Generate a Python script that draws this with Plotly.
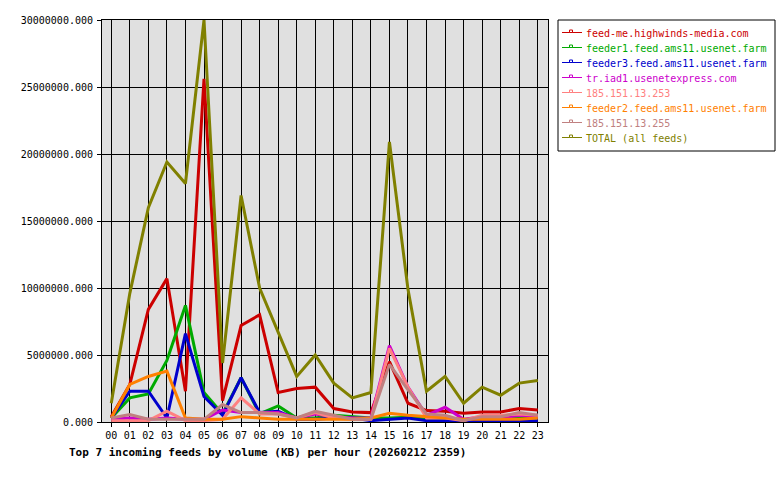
import plotly.graph_objects as go

hours = ["00","01","02","03","04","05","06","07","08","09","10","11",
         "12","13","14","15","16","17","18","19","20","21","22","23"]

names = ["feed-me.highwinds-media.com", "feeder1.feed.ams11.usenet.farm",
         "feeder3.feed.ams11.usenet.farm", "tr.iad1.usenetexpress.com",
         "185.151.13.253", "feeder2.feed.ams11.usenet.farm",
         "185.151.13.255", "TOTAL (all feeds)"]
colors = ["#cc0000", "#00aa00", "#0000cc", "#cc00cc",
          "#ff8080", "#ff8000", "#c08080", "#808000"]

highwinds = [0.4e6, 2.8e6, 8.4e6, 10.7e6, 2.3e6, 25.6e6, 1.6e6, 7.2e6, 8.0e6, 2.2e6, 2.5e6, 2.6e6,
             1.0e6, 0.75e6, 0.7e6, 4.5e6, 1.4e6, 0.85e6, 0.8e6, 0.65e6, 0.75e6, 0.75e6, 1.0e6, 0.9e6]
feeder1 = [0.3e6, 1.8e6, 2.1e6, 4.6e6, 8.7e6, 2.2e6, 0.6e6, 3.3e6, 0.6e6, 1.2e6, 0.3e6, 0.3e6,
           0.5e6, 0.4e6, 0.3e6, 0.3e6, 0.35e6, 0.2e6, 0.1e6, 0.1e6, 0.3e6, 0.3e6, 0.4e6, 0.4e6]
feeder3 = [0.3e6, 2.3e6, 2.3e6, 0.3e6, 6.6e6, 1.9e6, 0.5e6, 3.3e6, 0.7e6, 0.8e6, 0.2e6, 0.2e6,
           0.3e6, 0.3e6, 0.1e6, 0.2e6, 0.3e6, 0.1e6, 0.1e6, 0.1e6, 0.1e6, 0.1e6, 0.1e6, 0.1e6]
usenetexpress = [0.2e6, 0.3e6, 0.2e6, 0.3e6, 0.2e6, 0.2e6, 0.9e6, 0.7e6, 0.7e6, 0.7e6, 0.3e6, 0.6e6,
                 0.4e6, 0.3e6, 0.3e6, 5.7e6, 2.6e6, 0.5e6, 1.1e6, 0.2e6, 0.4e6, 0.3e6, 0.5e6, 0.4e6]
ip253 = [0.1e6, 0.1e6, 0.1e6, 0.8e6, 0.1e6, 0.1e6, 0.2e6, 1.8e6, 0.6e6, 0.6e6, 0.3e6, 0.7e6,
         0.3e6, 0.2e6, 0.2e6, 5.5e6, 2.6e6, 0.3e6, 0.3e6, 0.1e6, 0.5e6, 0.5e6, 0.6e6, 0.5e6]
feeder2 = [0.3e6, 2.8e6, 3.4e6, 3.8e6, 0.3e6, 0.2e6, 0.2e6, 0.4e6, 0.3e6, 0.2e6, 0.2e6, 0.2e6,
           0.2e6, 0.2e6, 0.3e6, 0.65e6, 0.5e6, 0.4e6, 0.3e6, 0.2e6, 0.2e6, 0.2e6, 0.2e6, 0.3e6]
ip255 = [0.3e6, 0.55e6, 0.2e6, 0.2e6, 0.2e6, 0.2e6, 1.3e6, 0.7e6, 0.7e6, 0.6e6, 0.3e6, 0.8e6,
         0.5e6, 0.2e6, 0.2e6, 4.3e6, 2.4e6, 0.6e6, 0.5e6, 0.1e6, 0.4e6, 0.4e6, 0.7e6, 0.5e6]
total = [1.4e6, 9.6e6, 16.0e6, 19.4e6, 17.8e6, 30.0e6, 4.4e6, 16.9e6, 10.0e6, 6.7e6, 3.4e6, 5.0e6,
         2.9e6, 1.8e6, 2.2e6, 20.9e6, 9.9e6, 2.3e6, 3.4e6, 1.4e6, 2.6e6, 2.0e6, 2.9e6, 3.1e6]

series = [highwinds, feeder1, feeder3, usenetexpress, ip253, feeder2, ip255, total]
title_text = "Top 7 incoming feeds by volume (KB) per hour (20260212 2359)"

W, H = 780, 480
L, R, T, B = 102, 548, 20, 422
MONO = "DejaVu Sans Mono"

fig = go.Figure()
xs = list(range(len(hours)))
for name, col, vals in zip(names, colors, series):
    fig.add_trace(go.Scatter(x=xs, y=vals, mode="lines", name=name,
                             line=dict(color=col, width=3), showlegend=False,
                             hoverinfo="skip"))

def px(xp):
    return (xp - L) / (R - L)

def py(yp):
    return (B - yp) / (B - T)

shapes = []
annotations = []
# legend box
shapes.append(dict(type="rect", xref="paper", yref="paper",
                   x0=px(558), x1=px(775), y0=py(20), y1=py(151),
                   line=dict(color="black", width=1), fillcolor="white", layer="above"))
for i, (name, col) in enumerate(zip(names, colors)):
    yc = 32.5 + 15 * i
    shapes.append(dict(type="line", xref="paper", yref="paper",
                       x0=px(562), x1=px(582), y0=py(yc), y1=py(yc),
                       line=dict(color=col, width=1), layer="above"))
    shapes.append(dict(type="rect", xref="paper", yref="paper",
                       x0=px(569.5), x1=px(572.5), y0=py(yc), y1=py(yc - 2.5),
                       line=dict(color=col, width=1), fillcolor="white", layer="above"))
    annotations.append(dict(xref="paper", yref="paper", x=px(585), y=py(yc + 0.5),
                            xanchor="left", yanchor="middle", showarrow=False,
                            text=name, font=dict(family=MONO, size=10, color=col),
                            borderpad=0))

annotations.append(dict(xref="paper", yref="paper", x=px(68), y=py(452),
                        xanchor="left", yanchor="middle", showarrow=False,
                        text="<b>" + title_text + "</b>",
                        font=dict(family=MONO, size=11, color="black"), borderpad=0))

fig.update_layout(
    width=W, height=H,
    margin=dict(l=L, r=W - R, t=T, b=H - B, pad=0),
    paper_bgcolor="white", plot_bgcolor="#e0e0e0",
    font=dict(family=MONO, size=10, color="black"),
    shapes=shapes, annotations=annotations,
    showlegend=False,
)
fig.update_xaxes(range=[-0.5, 23.55], tickmode="array", tickvals=xs, ticktext=hours,
                 showgrid=True, gridcolor="black", gridwidth=1,
                 showline=True, linecolor="black", linewidth=1, mirror=True,
                 ticks="outside", ticklen=4, tickcolor="black", zeroline=False,
                 tickfont=dict(family=MONO, size=10))
fig.update_yaxes(range=[0, 30e6], dtick=5e6, tick0=0, tickformat=".3f",
                 showgrid=True, gridcolor="black", gridwidth=1,
                 showline=True, linecolor="black", linewidth=1, mirror=True,
                 ticks="outside", ticklen=4, tickcolor="black", zeroline=False,
                 ticklabelstandoff=2,
                 tickfont=dict(family=MONO, size=10))

fig.write_html("out.html")
